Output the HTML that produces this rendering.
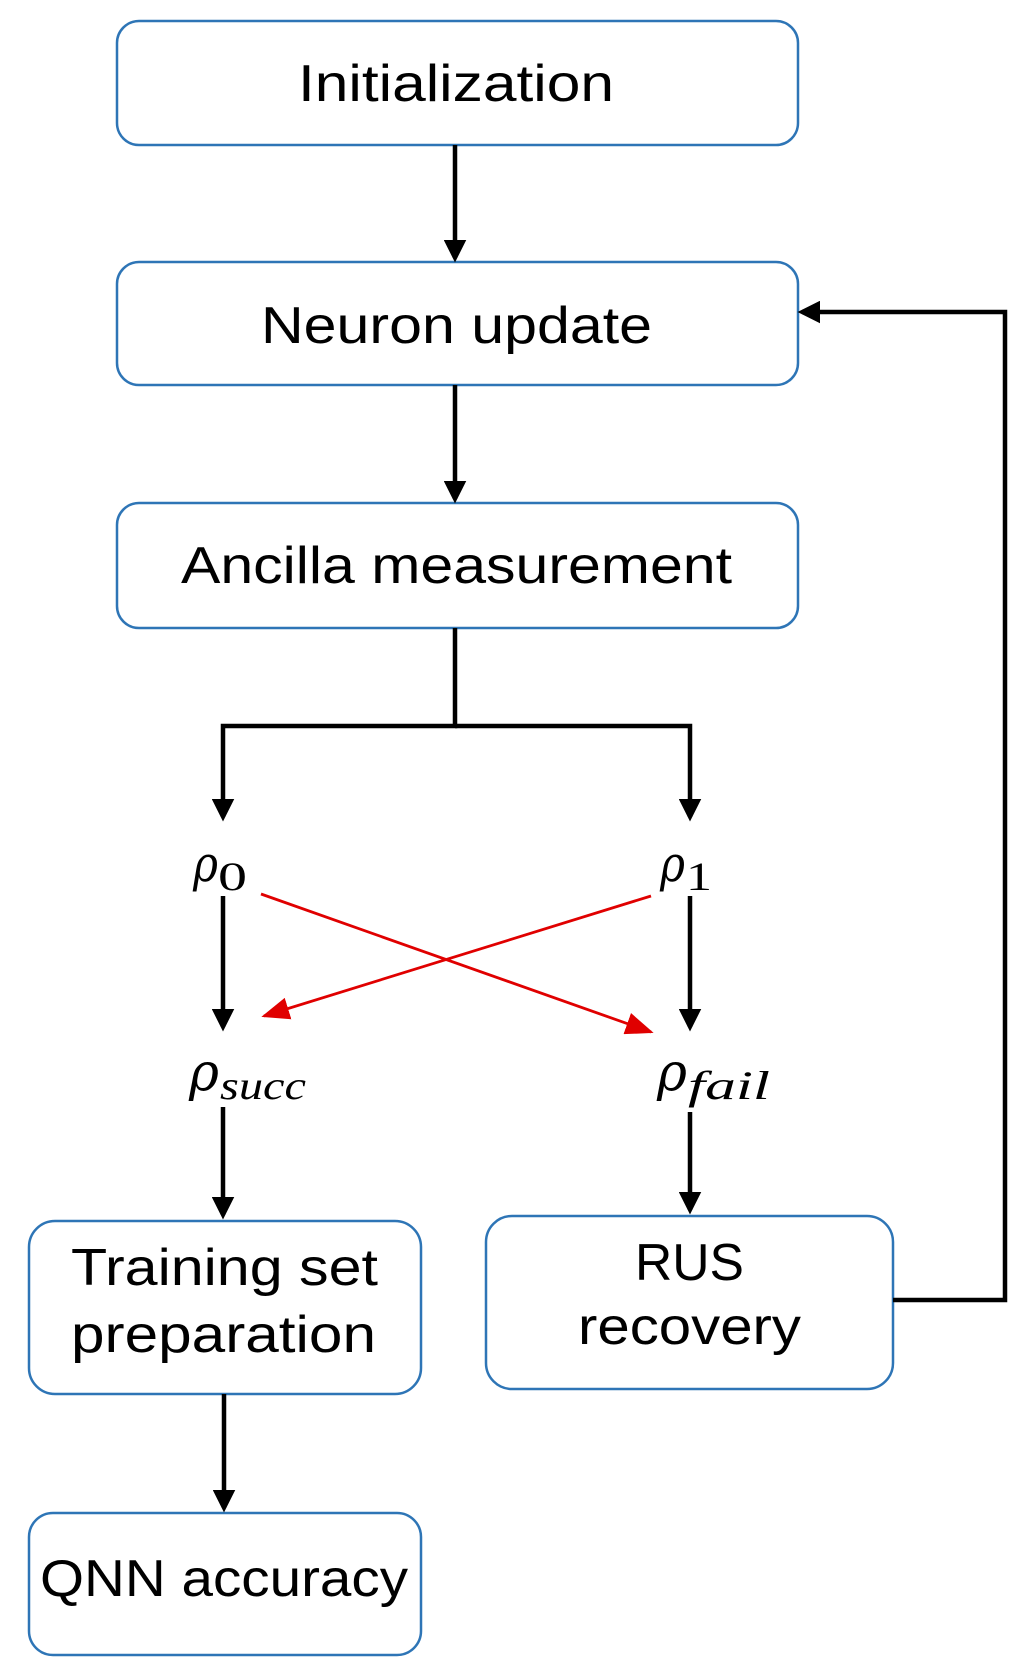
<!DOCTYPE html>
<html><head><style>html,body{margin:0;padding:0;background:#fff}svg{display:block}</style></head>
<body>
<svg width="1032" height="1669" viewBox="0 0 1032 1669" xmlns="http://www.w3.org/2000/svg">
<defs>
<marker id="ab" markerWidth="5" markerHeight="5" refX="4" refY="2.5" orient="auto" markerUnits="strokeWidth"><path d="M0,0 L5,2.5 L0,5 z" fill="#000"/></marker>
<marker id="ar" markerWidth="10" markerHeight="8" refX="9" refY="4" orient="auto" markerUnits="strokeWidth"><path d="M0,0 L10,4 L0,8 z" fill="#e00000"/></marker>
</defs>
<g fill="#fff" stroke="#2e75b6" stroke-width="2.5">
<rect x="117" y="21" width="681" height="124" rx="22"/>
<rect x="117" y="262" width="681" height="123" rx="22"/>
<rect x="117" y="503" width="681" height="125" rx="22"/>
<rect x="29" y="1221" width="392" height="173" rx="26"/>
<rect x="486" y="1216" width="407" height="173" rx="26"/>
<rect x="29" y="1513" width="392" height="142" rx="24"/>
</g>
<g stroke="#000" stroke-width="4.5" fill="none">
<line x1="455" y1="145" x2="455" y2="258" marker-end="url(#ab)"/>
<line x1="455" y1="385" x2="455" y2="499" marker-end="url(#ab)"/>
<polyline points="455,628 455,726 223,726 223,817" marker-end="url(#ab)"/>
<polyline points="455,726 690,726 690,817" marker-end="url(#ab)"/>
<line x1="223" y1="896" x2="223" y2="1027" marker-end="url(#ab)"/>
<line x1="690" y1="896" x2="690" y2="1027" marker-end="url(#ab)"/>
<line x1="223" y1="1107" x2="223" y2="1215" marker-end="url(#ab)"/>
<line x1="690" y1="1112" x2="690" y2="1210" marker-end="url(#ab)"/>
<line x1="224" y1="1394" x2="224" y2="1508" marker-end="url(#ab)"/>
<polyline points="893,1300 1005,1300 1005,312 802,312" marker-end="url(#ab)"/>
</g>
<g stroke="#e00000" stroke-width="2.8" fill="none">
<line x1="261" y1="894" x2="651" y2="1032" marker-end="url(#ar)"/>
<line x1="651" y1="896" x2="264" y2="1016" marker-end="url(#ar)"/>
</g>
<g font-family="Liberation Sans, DejaVu Sans, sans-serif" font-size="52" fill="#000" text-anchor="start">
<text x="298" y="101" textLength="316" lengthAdjust="spacingAndGlyphs">Initialization</text>
<text x="261" y="343" textLength="391" lengthAdjust="spacingAndGlyphs">Neuron update</text>
<text x="181" y="583" textLength="551" lengthAdjust="spacingAndGlyphs">Ancilla measurement</text>
<text x="71" y="1285" textLength="307" lengthAdjust="spacingAndGlyphs">Training set</text>
<text x="71" y="1352" textLength="305" lengthAdjust="spacingAndGlyphs">preparation</text>
<text x="635" y="1280" textLength="109" lengthAdjust="spacingAndGlyphs">RUS</text>
<text x="578" y="1344" textLength="223" lengthAdjust="spacingAndGlyphs">recovery</text>
<text x="40" y="1596" textLength="368" lengthAdjust="spacingAndGlyphs">QNN accuracy</text>
</g>
<g font-family="DejaVu Serif, Liberation Serif, serif" fill="#000">
<text x="193" y="881" font-size="50" font-style="italic" textLength="25" lengthAdjust="spacingAndGlyphs">ρ</text><text x="218" y="890" font-size="40" font-family="Liberation Serif, serif" textLength="29" lengthAdjust="spacingAndGlyphs">0</text>
<text x="660" y="881" font-size="50" font-style="italic" textLength="25" lengthAdjust="spacingAndGlyphs">ρ</text><text x="686" y="890" font-size="40" font-family="Liberation Serif, serif" textLength="26" lengthAdjust="spacingAndGlyphs">1</text>
<text x="189" y="1090" font-size="52" font-style="italic" textLength="30" lengthAdjust="spacingAndGlyphs">ρ</text><text x="220" y="1099" font-size="40" font-style="italic" font-family="Liberation Serif, serif" textLength="86" lengthAdjust="spacingAndGlyphs">succ</text>
<text x="657" y="1090" font-size="52" font-style="italic" textLength="30" lengthAdjust="spacingAndGlyphs">ρ</text><text x="688" y="1099" font-size="40" font-style="italic" font-family="Liberation Serif, serif" textLength="82" lengthAdjust="spacingAndGlyphs">fail</text>
</g>
</svg>
</body></html>
